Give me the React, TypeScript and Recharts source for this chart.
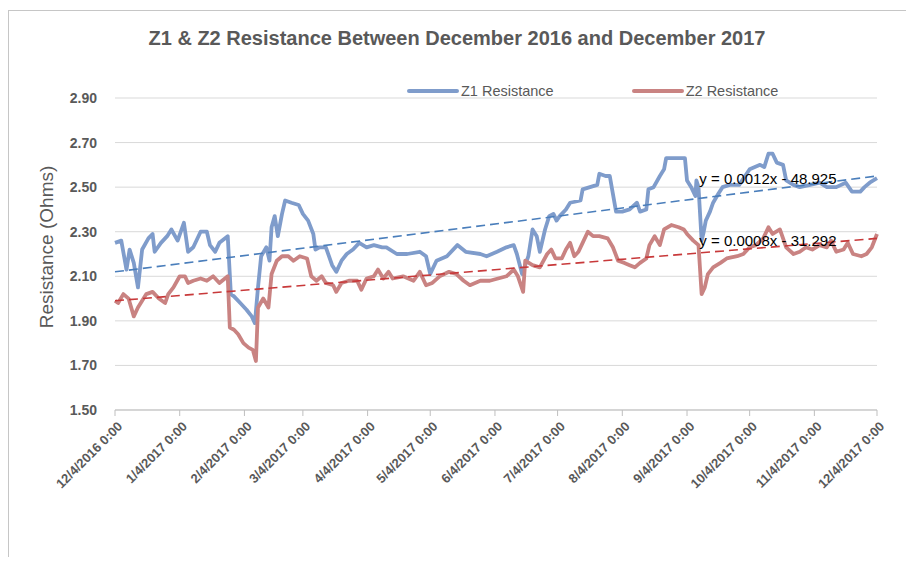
import React from "react";
import {
  LineChart,
  Line,
  XAxis,
  YAxis,
  CartesianGrid,
  Legend,
  ReferenceDot,
} from "recharts";

// x values are days since 12/4/2016
const z1Days = [
  0, 3, 5.5, 7, 9, 11, 13, 16, 18, 19, 22, 25, 27, 30, 33, 35, 37.5, 41, 44, 45.5, 48, 50, 54, 55.5, 57, 60,
  63, 65.5, 67, 68.5, 70, 72.5, 74, 75, 76.5, 78, 80, 81.5, 84.5, 88, 90, 92.5, 95, 96, 98, 101, 104, 106,
  108.5, 111, 114, 117, 120.5, 124, 128, 130, 135, 140, 146, 149, 151, 154, 159, 164, 168, 175, 178, 183,
  187.5, 191, 192.5, 195, 198, 200, 202, 203.5, 206, 208, 210, 211.5, 213, 216, 218, 223, 224, 227.5, 231,
  232, 235, 237, 238.5, 240, 243, 246.5, 250, 251.5, 254.5, 255.5, 258, 261, 263, 264, 270.5, 273, 274, 276,
  278, 278.5, 279.5, 281, 282, 283, 285, 286.5, 289, 291, 294.5, 299, 304, 309, 311, 313, 315, 317, 320,
  321.5, 325, 328, 333, 337.5, 341, 345.5, 350, 353, 357, 359, 361.5, 365,
];
const z1Values = [
  2.25, 2.26, 2.13, 2.22, 2.16, 2.05, 2.22, 2.27, 2.29, 2.21, 2.25, 2.28, 2.31, 2.26, 2.34, 2.21, 2.23, 2.3,
  2.3, 2.24, 2.21, 2.25, 2.28, 2.02, 2.01, 1.98, 1.95, 1.92, 1.89, 2.05, 2.19, 2.23, 2.17, 2.32, 2.37, 2.28,
  2.38, 2.44, 2.43, 2.42, 2.38, 2.35, 2.29, 2.22, 2.23, 2.23, 2.15, 2.12, 2.17, 2.2, 2.22, 2.25, 2.23, 2.24,
  2.23, 2.23, 2.2, 2.2, 2.21, 2.19, 2.11, 2.17, 2.19, 2.24, 2.21, 2.2, 2.19, 2.21, 2.23, 2.24, 2.2, 2.11,
  2.19, 2.31, 2.28, 2.21, 2.31, 2.37, 2.38, 2.35, 2.37, 2.4, 2.43, 2.44, 2.49, 2.5, 2.51, 2.56, 2.55, 2.55,
  2.47, 2.39, 2.39, 2.4, 2.43, 2.39, 2.4, 2.49, 2.5, 2.55, 2.58, 2.63, 2.63, 2.63, 2.53, 2.5, 2.46, 2.53,
  2.5, 2.26, 2.3, 2.35, 2.39, 2.43, 2.47, 2.5, 2.51, 2.51, 2.58, 2.6, 2.59, 2.65, 2.65, 2.61, 2.6, 2.53,
  2.51, 2.5, 2.51, 2.52, 2.5, 2.5, 2.52, 2.48, 2.48, 2.5, 2.52, 2.54,
];

const z2Days = [
  0, 1.5, 4, 6.5, 9, 11, 13, 15, 18, 21, 24, 25.5, 28, 31, 33.5, 35, 37.5, 41, 44, 47, 50, 54, 55, 57, 59,
  61.5, 64, 66, 67.5, 68.5, 71, 73.5, 75, 77.5, 80, 83, 85.5, 88.5, 92, 94, 96.5, 99, 101, 104.5, 106, 108.5,
  112, 116, 118, 120.5, 124, 126, 128.5, 131, 133, 138, 143, 146, 149, 152, 155.5, 160, 163.5, 167, 170,
  175, 179.5, 183.5, 187.5, 191, 193, 195.5, 196.5, 200, 203.5, 207, 209, 211, 214, 216, 218, 220, 222, 224,
  226.5, 229, 232, 236, 238.5, 241, 244, 246.5, 249, 251.5, 254.5, 256, 258.5, 261, 263, 266.5, 270, 272.5,
  274, 277, 279.5, 281, 282.5, 284, 286.5, 290, 293, 298, 301, 304, 307, 310.5, 313, 315, 318.5, 321.5, 325,
  328, 331, 334, 337.5, 341, 343, 345.5, 349, 351, 353.5, 357.5, 360, 362.5, 365,
];
const z2Values = [
  1.99, 1.98, 2.02, 2.0, 1.92, 1.96, 1.99, 2.02, 2.03, 2.0, 1.98, 2.02, 2.05, 2.1, 2.1, 2.07, 2.08, 2.09,
  2.08, 2.1, 2.07, 2.1, 1.87, 1.86, 1.84, 1.8, 1.78, 1.77, 1.72, 1.96, 2.0, 1.96, 2.11, 2.17, 2.19, 2.19,
  2.17, 2.19, 2.18, 2.1, 2.08, 2.1, 2.07, 2.06, 2.03, 2.07, 2.08, 2.08, 2.04, 2.09, 2.1, 2.13, 2.09, 2.12,
  2.09, 2.1, 2.08, 2.12, 2.06, 2.07, 2.1, 2.12, 2.11, 2.08, 2.06, 2.08, 2.08, 2.09, 2.1, 2.13, 2.1, 2.03,
  2.17, 2.15, 2.14, 2.2, 2.22, 2.18, 2.18, 2.22, 2.25, 2.19, 2.21, 2.25, 2.3, 2.28, 2.28, 2.27, 2.23, 2.17,
  2.16, 2.15, 2.14, 2.16, 2.18, 2.24, 2.28, 2.24, 2.31, 2.33, 2.32, 2.31, 2.29, 2.26, 2.24, 2.02, 2.05,
  2.11, 2.14, 2.16, 2.18, 2.19, 2.2, 2.23, 2.24, 2.27, 2.32, 2.29, 2.31, 2.23, 2.2, 2.21, 2.23, 2.22, 2.24,
  2.23, 2.26, 2.21, 2.22, 2.25, 2.2, 2.19, 2.2, 2.23, 2.29,
];

// dashed trend lines, end values
const trendDays = [0, 365];
const z1Trend = [2.12, 2.55];
const z2Trend = [1.99, 2.27];
const z1Equation = "y = 0.0012x - 48.925";
const z2Equation = "y = 0.0008x - 31.292";

const tickLabels = [
  "12/4/2016 0:00",
  "1/4/2017 0:00",
  "2/4/2017 0:00",
  "3/4/2017 0:00",
  "4/4/2017 0:00",
  "5/4/2017 0:00",
  "6/4/2017 0:00",
  "7/4/2017 0:00",
  "8/4/2017 0:00",
  "9/4/2017 0:00",
  "10/4/2017 0:00",
  "11/4/2017 0:00",
  "12/4/2017 0:00",
];
const yTicks = [1.5, 1.7, 1.9, 2.1, 2.3, 2.5, 2.7, 2.9];

const start = Date.UTC(2016, 11, 4);
const tickDays = tickLabels.map((l) => {
  const [m, d, y] = l.split(" ")[0].split("/").map(Number);
  return Math.round((Date.UTC(y, m - 1, d) - start) / 86400000);
});
const labelByDay: Record<number, string> = {};
tickDays.forEach((d, i) => (labelByDay[d] = tickLabels[i]));

const z1Data = z1Days.map((day, i) => ({ day, z1: z1Values[i] }));
const z2Data = z2Days.map((day, i) => ({ day, z2: z2Values[i] }));
const z1TrendData = trendDays.map((day, i) => ({ day, t1: z1Trend[i] }));
const z2TrendData = trendDays.map((day, i) => ({ day, t2: z2Trend[i] }));

const FONT = "'Liberation Sans', Arial, sans-serif";
const GREY = "#595959";
const Z1_COLOR = "#7f9ccb";
const Z2_COLOR = "#c98382";

const XTick = (props: any) => {
  const { x, y, payload } = props;
  return (
    <g transform={`translate(${x + 5},${y + 6})`}>
      <text
        transform="rotate(-45)"
        textAnchor="end"
        dy="0.35em"
        fontSize={13}
        fontWeight="bold"
        fill={GREY}
        fontFamily={FONT}
      >
        {labelByDay[payload.value]}
      </text>
    </g>
  );
};

const LegendContent = () => {
  const items = [
    { name: "Z1 Resistance", color: Z1_COLOR },
    { name: "Z2 Resistance", color: Z2_COLOR },
  ];
  return (
    <div style={{ display: "flex", gap: 78, fontFamily: FONT, fontSize: 14.5, color: GREY }}>
      {items.map((it) => (
        <div key={it.name} style={{ display: "flex", alignItems: "center" }}>
          <span style={{ display: "inline-block", width: 52, height: 4, background: it.color, borderRadius: 2 }} />
          <span style={{ marginLeft: 2 }}>{it.name}</span>
        </div>
      ))}
    </div>
  );
};

const YLabel = (props: any) => {
  const { viewBox } = props;
  const cx = viewBox.x + 46;
  const cy = viewBox.y + viewBox.height / 2 - 7;
  return (
    <text
      x={cx}
      y={cy}
      transform={`rotate(-90, ${cx}, ${cy})`}
      textAnchor="middle"
      dominantBaseline="central"
      fontSize={19}
      fill={GREY}
      fontFamily={FONT}
    >
      Resistance (Ohms)
    </text>
  );
};

export default function App() {
  return (
    <div style={{ position: "relative", width: 914, height: 565, margin: -8, background: "#fff", overflow: "hidden" }}>
      <div
        style={{
          position: "absolute",
          left: 8,
          top: 10,
          width: 901,
          height: 600,
          border: "1px solid #c6c6c6",
        }}
      />
      <div
        style={{
          position: "absolute",
          left: 0,
          width: 914,
          top: 27,
          textAlign: "center",
          fontFamily: FONT,
          fontWeight: "bold",
          fontSize: 20,
          color: GREY,
        }}
      >
        Z1 &amp; Z2 Resistance Between December 2016 and December 2017
      </div>
      <div style={{ position: "absolute", left: 0, top: 0 }}>
        <LineChart width={914} height={565} margin={{ top: 98, right: 37, bottom: 55, left: 0 }}>
          <CartesianGrid vertical={false} stroke="#d9d9d9" />
          <XAxis
            type="number"
            dataKey="day"
            domain={[0, 365]}
            ticks={tickDays}
            interval={0}
            height={100}
            stroke="#bfbfbf"
            tickSize={6}
            tick={<XTick />}
          />
          <YAxis
            type="number"
            domain={[1.5, 2.9]}
            ticks={yTicks}
            width={115}
            axisLine={false}
            tickLine={false}
            tickSize={0}
            tickMargin={18}
            tickFormatter={(v: number) => v.toFixed(2)}
            tick={{ fontSize: 14, fontWeight: "bold", fill: GREY, fontFamily: FONT }}
            label={<YLabel />}
          />
          <Legend
            layout="horizontal"
            verticalAlign="middle"
            align="center"
            content={<LegendContent />}
            wrapperStyle={{ top: 83, left: 407, width: "auto", height: "auto" }}
          />
          <Line
            data={z1Data}
            dataKey="z1"
            stroke={Z1_COLOR}
            strokeWidth={3.8}
            dot={false}
            strokeLinejoin="round"
            isAnimationActive={false}
          />
          <Line
            data={z2Data}
            dataKey="z2"
            stroke={Z2_COLOR}
            strokeWidth={3.8}
            dot={false}
            strokeLinejoin="round"
            isAnimationActive={false}
          />
          <Line
            data={z1TrendData}
            dataKey="t1"
            stroke="#4a7ebb"
            strokeWidth={1.6}
            strokeDasharray="9 5"
            dot={false}
            legendType="none"
            isAnimationActive={false}
          />
          <Line
            data={z2TrendData}
            dataKey="t2"
            stroke="#c8393a"
            strokeWidth={1.6}
            strokeDasharray="9 5"
            dot={false}
            legendType="none"
            isAnimationActive={false}
          />
          <ReferenceDot
            x={277.5}
            y={2.54}
            r={0}
            stroke="none"
            fill="none"
            label={{ value: z1Equation, position: "right", fontSize: 15, fill: "#000", fontFamily: FONT }}
          />
          <ReferenceDot
            x={277.5}
            y={2.262}
            r={0}
            stroke="none"
            fill="none"
            label={{ value: z2Equation, position: "right", fontSize: 15, fill: "#000", fontFamily: FONT }}
          />
        </LineChart>
      </div>
    </div>
  );
}
